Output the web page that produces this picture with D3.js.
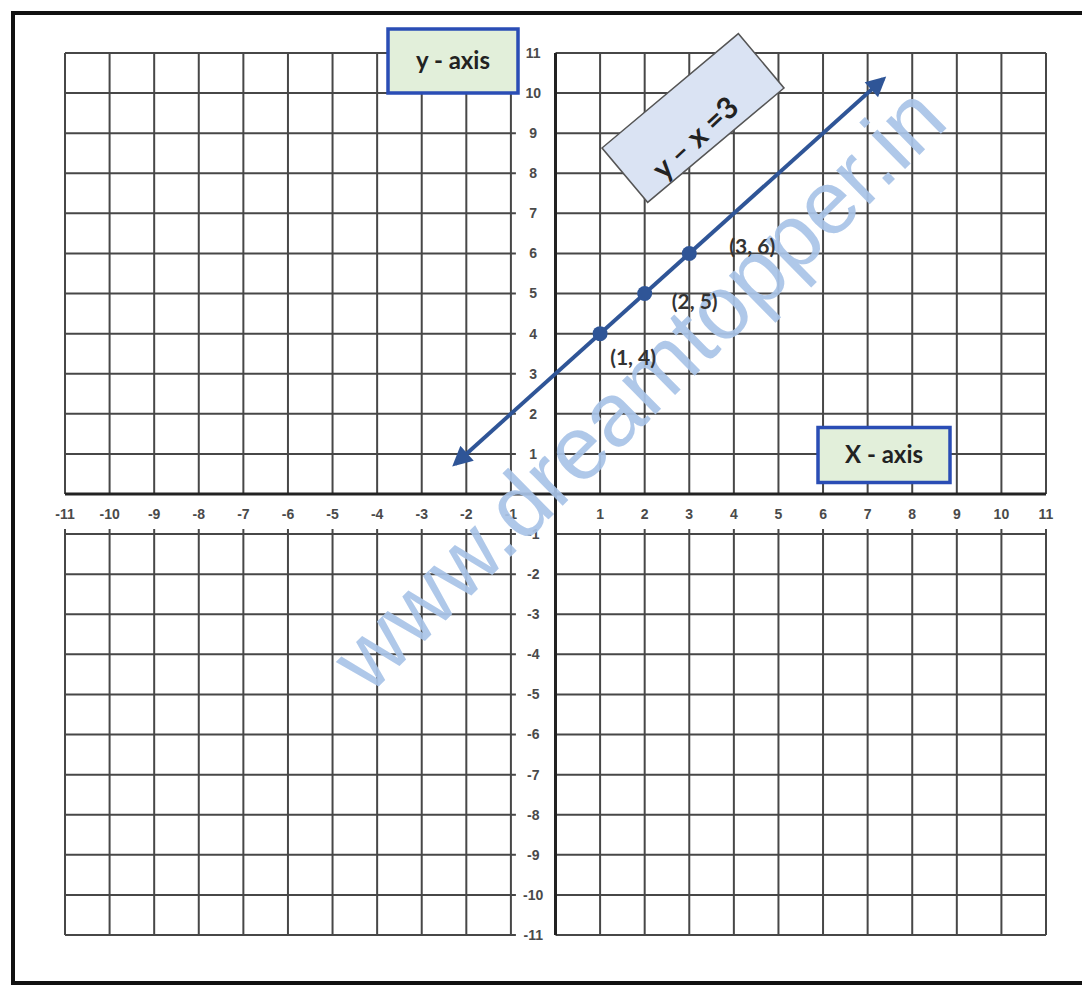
<!DOCTYPE html>
<html>
<head>
  <title>y - x = 3</title>
  <script src="https://d3js.org/d3.v7.min.js"></script>
  <style>
    body { margin: 0; background: #fff; }
  </style>
</head>
<body>
  <svg id="graph" width="1082" height="986"></svg>

  <script>
    // values
    const xTickLabels = [-11, -10, -9, -8, -7, -6, -5, -4, -3, -2, -1, 1, 2, 3, 4, 5, 6, 7, 8, 9, 10, 11];
    const yTickLabels = [11, 10, 9, 8, 7, 6, 5, 4, 3, 2, 1, -1, -2, -3, -4, -5, -6, -7, -8, -9, -10, -11];
    const pointX = [1, 2, 3];
    const pointY = [4, 5, 6];
    const pointLabels = ["(1, 4)", "(2, 5)", "(3, 6)"];
    const lineStart = [-2.25, 0.75];
    const lineEnd = [7.35, 10.35];
    const equation = "y \u2013 x =3";

    const svg = d3.select("#graph");

    const x = d3.scaleLinear().domain([-11, 11]).range([65, 1046]);
    const y = d3.scaleLinear().domain([-11, 11]).range([935, 53]);

    const gridColor = "#474747";
    const blue = "#2f5597";

    // outer frame
    svg.append("rect")
      .attr("x", 13).attr("y", 13)
      .attr("width", 1100).attr("height", 970)
      .attr("fill", "none")
      .attr("stroke", "#111")
      .attr("stroke-width", 4);

    // four grid blocks, the axis labels sit in the gap between x=-1 and 0, y=0 and -1
    const blocks = [
      { x0: -11, x1: -1, y0: 0, y1: 11 },
      { x0: 0, x1: 11, y0: 0, y1: 11 },
      { x0: -11, x1: -1, y0: -11, y1: -1 },
      { x0: 0, x1: 11, y0: -11, y1: -1 }
    ];
    const grid = svg.append("g")
      .attr("stroke", gridColor)
      .attr("stroke-width", 2);

    blocks.forEach(b => {
      d3.range(b.x0, b.x1 + 1).forEach(v => {
        grid.append("line")
          .attr("x1", x(v)).attr("x2", x(v))
          .attr("y1", y(b.y1) - (b.y1 === -1 ? 5 : 0))
          .attr("y2", y(b.y0));
      });
      d3.range(b.y0, b.y1 + 1).forEach(v => {
        grid.append("line")
          .attr("y1", y(v)).attr("y2", y(v))
          .attr("x1", x(b.x0))
          .attr("x2", x(b.x1) + (b.x1 === -1 ? 5 : 0));
      });
    });

    // axes
    svg.append("line")
      .attr("x1", x(-11)).attr("x2", x(11))
      .attr("y1", y(0)).attr("y2", y(0))
      .attr("stroke", "#222").attr("stroke-width", 3);
    svg.append("line")
      .attr("x1", x(0)).attr("x2", x(0))
      .attr("y1", y(11)).attr("y2", y(-11))
      .attr("stroke", "#222").attr("stroke-width", 3);

    // tick labels
    svg.append("g").selectAll("text")
      .data(xTickLabels)
      .join("text")
      .attr("x", d => x(d))
      .attr("y", (y(0) + y(-1)) / 2)
      .attr("dy", "0.35em")
      .attr("text-anchor", "middle")
      .attr("font-family", "Liberation Sans, Arial, sans-serif")
      .attr("font-weight", "bold")
      .attr("font-size", 14)
      .attr("fill", "#4a4a4a")
      .text(d => d);

    svg.append("g").selectAll("text")
      .data(yTickLabels)
      .join("text")
      .attr("x", (x(-1) + x(0)) / 2)
      .attr("y", d => y(d))
      .attr("dy", "0.35em")
      .attr("text-anchor", "middle")
      .attr("font-family", "Liberation Sans, Arial, sans-serif")
      .attr("font-weight", "bold")
      .attr("font-size", 14)
      .attr("fill", "#4a4a4a")
      .text(d => d);

    // watermark
    svg.append("text")
      .attr("transform", "translate(660,410) rotate(-44.5)")
      .attr("text-anchor", "middle")
      .attr("font-family", "Liberation Sans, Arial, sans-serif")
      .attr("font-size", 90)
      .attr("fill", "#a9c4e8")
      .attr("opacity", 0.92)
      .text("www.dreamtopper.in");

    // label boxes
    function labelBox(cx, cy, w, h, txt) {
      const g = svg.append("g").attr("transform", `translate(${cx},${cy})`);
      g.append("rect")
        .attr("x", -w / 2).attr("y", -h / 2)
        .attr("width", w).attr("height", h)
        .attr("fill", "#e2efda")
        .attr("stroke", "#2a4db5")
        .attr("stroke-width", 3.5);
      g.append("text")
        .attr("text-anchor", "middle")
        .attr("dy", "0.35em")
        .attr("font-family", "Lato, sans-serif")
        .attr("font-weight", "bold")
        .attr("font-size", 24)
        .attr("fill", "#222")
        .text(txt);
    }
    labelBox(453, 61, 130, 64, "y - axis");
    labelBox(884, 455, 132, 55, "X - axis");

    // rotated equation tag
    const tag = svg.append("g").attr("transform", "translate(693,118) rotate(-40)");
    tag.append("rect")
      .attr("x", -89).attr("y", -35.5)
      .attr("width", 178).attr("height", 71)
      .attr("fill", "#dae3f3")
      .attr("stroke", "#555")
      .attr("stroke-width", 1.5);
    tag.append("text")
      .attr("x", -12).attr("y", 16)
      .attr("dy", "0.35em")
      .attr("text-anchor", "middle")
      .attr("transform", "rotate(-3)")
      .attr("font-family", "Lato, sans-serif")
      .attr("font-weight", "bold")
      .attr("font-size", 30)
      .attr("fill", "#222")
      .text(equation);

    // line with arrows at both ends
    const defs = svg.append("defs");
    defs.append("marker")
      .attr("id", "arrow")
      .attr("viewBox", "0 0 10 10")
      .attr("refX", 8).attr("refY", 5)
      .attr("markerWidth", 5.5).attr("markerHeight", 5)
      .attr("markerUnits", "strokeWidth")
      .attr("orient", "auto-start-reverse")
      .append("path")
      .attr("d", "M0,0 L10,5 L0,10 Z")
      .attr("fill", blue);

    svg.append("line")
      .attr("x1", x(lineStart[0])).attr("y1", y(lineStart[1]))
      .attr("x2", x(lineEnd[0])).attr("y2", y(lineEnd[1]))
      .attr("stroke", blue)
      .attr("stroke-width", 4)
      .attr("marker-start", "url(#arrow)")
      .attr("marker-end", "url(#arrow)");

    // points and their labels
    svg.append("g").selectAll("circle")
      .data(pointX)
      .join("circle")
      .attr("cx", d => x(d))
      .attr("cy", (d, i) => y(pointY[i]))
      .attr("r", 7.5)
      .attr("fill", blue);

    const labelOffsets = [[33, 24], [50, 8], [63, -7]];
    svg.append("g").selectAll("text")
      .data(pointLabels)
      .join("text")
      .attr("x", (d, i) => x(pointX[i]) + labelOffsets[i][0])
      .attr("y", (d, i) => y(pointY[i]) + labelOffsets[i][1])
      .attr("dy", "0.35em")
      .attr("text-anchor", "middle")
      .attr("font-family", "Lato, sans-serif")
      .attr("font-weight", "bold")
      .attr("font-size", 21)
      .attr("fill", "#333")
      .text(d => d);
  </script>
</body>
</html>
